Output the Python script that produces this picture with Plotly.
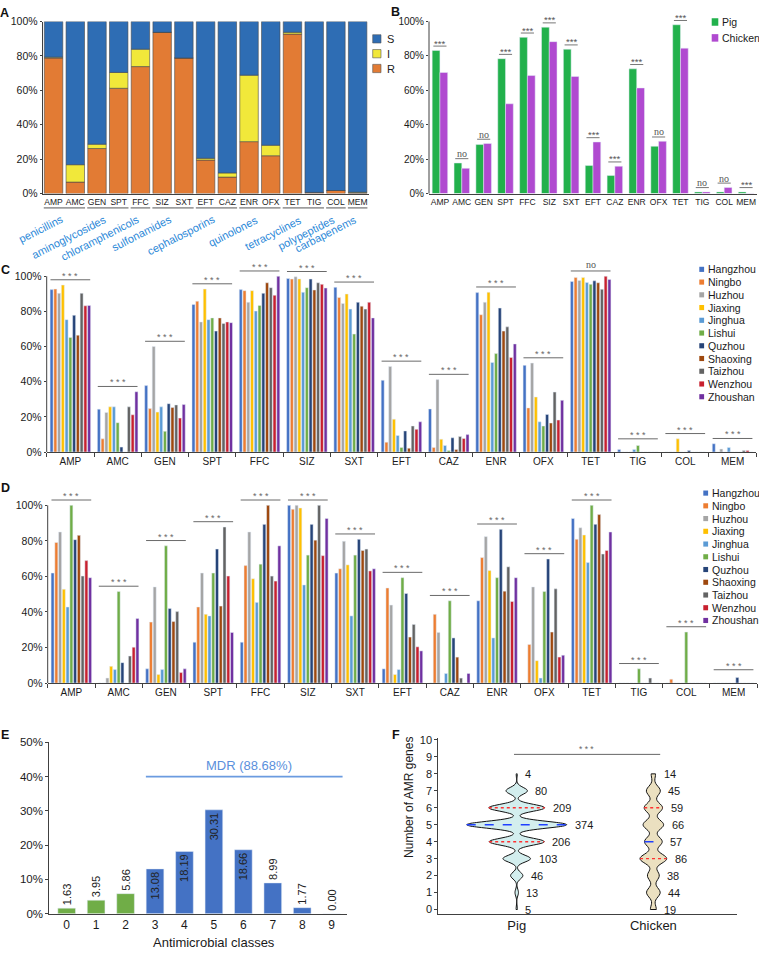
import numpy as np
import plotly.graph_objects as go

W, H = 759, 954
FONT = "Arial, 'Liberation Sans', Helvetica, sans-serif"
SERIF = "'Times New Roman', 'Liberation Serif', serif"
AXC = "#404040"
TXT = "#1a1a1a"

# ---------------- data ----------------
DRUGS = ["AMP", "AMC", "GEN", "SPT", "FFC", "SIZ", "SXT", "EFT", "CAZ", "ENR", "OFX", "TET", "TIG", "COL", "MEM"]

# Panel A: resistant / intermediate (% of isolates); susceptible is the rest
A_R = [78.8, 6.7, 26.2, 61.2, 73.8, 93.7, 78.8, 19.5, 9.6, 30.2, 22.0, 92.7, 0.7, 1.8, 0.4]
A_I = [0.5, 10.1, 2.5, 9.2, 10.1, 0.0, 0.0, 1.0, 2.4, 38.6, 6.1, 1.0, 0.0, 0.0, 0.4]
CLASS_NAMES = ["penicillins", "aminoglycosides", "chloramphenicols", "sulfonamides", "cephalosporins",
               "quinolones", "tetracyclines", "polypeptides", "carbapenems"]
CLASS_DRUGS = [["AMP", "AMC"], ["GEN", "SPT"], ["FFC"], ["SIZ", "SXT"], ["EFT", "CAZ"],
               ["ENR", "OFX"], ["TET", "TIG"], ["COL"], ["MEM"]]

# Panel B
B_PIG = [83.2, 17.8, 28.5, 78.4, 90.8, 96.7, 83.9, 16.3, 10.5, 72.5, 27.5, 98.1, 1.0, 1.0, 1.0]
B_CHICKEN = [70.4, 14.7, 29.1, 52.2, 68.6, 88.3, 68.1, 30.0, 15.9, 61.4, 30.4, 84.5, 1.0, 3.6, 0.2]
B_SIG = ["***", "no", "no", "***", "***", "***", "***", "***", "***", "***", "no", "***", "no", "no", "***"]

# Panels C and D
CITIES = ["Hangzhou", "Ningbo", "Huzhou", "Jiaxing", "Jinghua", "Lishui", "Quzhou", "Shaoxing", "Taizhou", "Wenzhou", "Zhoushan"]
C_HANGZHOU = [92.4, 24.4, 37.8, 83.9, 92.4, 98.7, 93.7, 40.8, 24.5, 90.7, 49.3, 97.0, 1.5, 0.0, 4.7]
C_NINGBO = [92.7, 7.5, 24.7, 85.8, 91.8, 98.4, 87.9, 5.6, 2.6, 78.1, 25.1, 99.3, 0.0, 0.0, 0.0]
C_HUZHOU = [90.3, 22.5, 60.0, 74.0, 85.2, 99.7, 84.5, 48.7, 41.2, 85.2, 50.6, 97.6, 0.0, 0.0, 1.7]
C_JIAXING = [95.0, 25.7, 22.7, 92.7, 91.8, 98.5, 89.9, 18.7, 7.3, 90.9, 31.3, 99.3, 0.0, 7.5, 0.0]
C_JINGHUA = [75.3, 25.7, 25.7, 75.3, 80.2, 90.9, 81.3, 9.4, 3.7, 51.0, 17.2, 96.5, 1.5, 0.0, 2.6]
C_LISHUI = [65.2, 16.7, 11.8, 76.3, 83.4, 93.5, 67.1, 2.6, 0.9, 56.0, 14.8, 95.4, 3.7, 0.0, 0.0]
C_QUZHOU = [77.8, 2.8, 27.5, 68.8, 90.3, 98.4, 85.2, 12.0, 8.1, 81.9, 21.4, 97.4, 0.0, 0.9, 0.0]
C_SHAOXING = [66.5, 0.0, 25.3, 76.3, 96.3, 92.2, 83.0, 2.2, 1.5, 68.8, 16.5, 96.3, 0.0, 0.0, 0.0]
C_TAIZHOU = [90.3, 25.7, 26.8, 73.1, 93.5, 96.3, 81.3, 14.8, 8.8, 71.2, 34.1, 92.6, 0.0, 0.0, 0.9]
C_WENZHOU = [83.2, 21.2, 19.3, 74.0, 89.2, 95.4, 85.2, 12.9, 7.7, 53.8, 18.2, 100.0, 0.0, 0.0, 0.9]
C_ZHOUSHAN = [83.4, 34.3, 27.0, 73.6, 100.0, 93.3, 76.3, 17.2, 9.9, 61.5, 29.4, 98.2, 0.0, 0.0, 0.0]
C_SIG = ["***"] * 11 + ["no", "***", "***", "***"]

D_HANGZHOU = [61.9, 0.0, 8.0, 23.0, 23.0, 100.0, 61.9, 8.0, 0.0, 46.3, 0.0, 92.6, 0.0, 0.0, 0.0]
D_NINGBO = [79.1, 0.0, 34.3, 42.8, 66.1, 97.8, 64.3, 53.5, 38.7, 70.6, 21.7, 80.9, 0.0, 2.2, 0.0]
D_HUZHOU = [85.0, 2.8, 54.1, 61.9, 85.0, 100.0, 79.8, 43.9, 28.5, 82.4, 54.1, 87.4, 0.0, 0.0, 0.0]
D_JIAXING = [52.8, 9.4, 4.8, 38.7, 58.7, 98.5, 66.5, 4.8, 0.0, 63.3, 12.6, 83.3, 0.0, 0.0, 0.0]
D_JINGHUA = [42.8, 7.6, 7.6, 37.8, 45.4, 55.2, 37.8, 7.6, 5.4, 25.4, 2.8, 67.8, 0.0, 0.0, 0.0]
D_LISHUI = [100.0, 51.5, 77.2, 61.9, 66.9, 72.0, 72.0, 59.3, 46.3, 59.3, 51.5, 100.0, 8.0, 28.7, 0.0]
D_QUZHOU = [80.7, 11.5, 42.0, 75.4, 89.3, 89.3, 80.9, 50.4, 25.4, 86.5, 69.8, 89.3, 0.0, 0.0, 3.1]
D_SHAOXING = [83.1, 0.0, 34.6, 43.3, 100.0, 80.4, 74.6, 25.9, 14.6, 51.7, 28.7, 94.8, 0.0, 0.0, 0.0]
D_TAIZHOU = [60.2, 15.2, 40.2, 87.8, 60.2, 100.0, 75.4, 33.0, 2.8, 65.4, 53.0, 72.6, 2.8, 0.0, 0.0]
D_WENZHOU = [68.9, 20.2, 5.9, 60.2, 57.4, 71.7, 63.1, 20.4, 0.0, 45.9, 14.6, 74.6, 0.0, 0.0, 0.0]
D_ZHOUSHAN = [59.3, 36.3, 8.0, 28.5, 77.2, 92.6, 64.3, 18.1, 5.4, 59.3, 15.7, 85.0, 0.0, 0.0, 0.0]
D_SIG = ["***"] * 15

# Panel E
E_CLASSES = [0, 1, 2, 3, 4, 5, 6, 7, 8, 9]
E_PERCENT = [1.63, 3.95, 5.86, 13.08, 18.19, 30.31, 18.66, 8.99, 1.77, 0.00]
MDR_LABEL = "MDR (88.68%)"
MDR_LEVEL = 40

# Panel F
F_LEVELS = [0, 1, 2, 3, 4, 5, 6, 7, 8]
F_PIG_COUNTS = [5, 13, 46, 103, 206, 374, 209, 80, 4]
F_CHICKEN_COUNTS = [19, 44, 38, 86, 57, 66, 59, 45, 14]

# ---------------- styles ----------------
COL_S, COL_I, COL_R = "#2e6db4", "#f1e83a", "#e27b34"
COL_PIG, COL_CHICKEN = "#22b14c", "#b04ad0"
CITY_COLORS = ["#4472c4", "#ed7d31", "#a5a5a5", "#ffc000", "#5b9bd5", "#70ad47",
               "#264478", "#9e480e", "#636363", "#c8202e", "#7030a0"]
E_GREEN, E_BLUE = "#70ad47", "#4472c4"


def xd(a, b):
    return [a / W, b / W]


def yd(bottom, top):
    return [1 - bottom / H, 1 - top / H]


def px(p):
    return p / W


def py(p):
    return 1 - p / H


def tf(size, color=TXT, family=FONT):
    return dict(size=size, color=color, family=family)


def axis(**kw):
    base = dict(showgrid=False, zeroline=False, showline=True, linecolor=AXC, linewidth=1,
                ticks="", tickcolor=AXC, tickfont=tf(10), fixedrange=True)
    base.update(kw)
    return base


def pct_axis(vals):
    return dict(tickmode="array", tickvals=vals, ticktext=[f"{v}%" for v in vals])


fig = go.Figure()
shapes = []
annotations = []
pct_ticks = [0, 20, 40, 60, 80, 100]

# ---------------- Panel A ----------------
a_S = [round(100 - r - i, 2) for r, i in zip(A_R, A_I)]
a_base_S = [r + i for r, i in zip(A_R, A_I)]
for vals, base, col in [(A_R, [0] * len(DRUGS), COL_R), (A_I, A_R, COL_I), (a_S, a_base_S, COL_S)]:
    fig.add_trace(go.Bar(x=DRUGS, y=vals, base=base, width=0.85, offset=-0.425,
                         marker=dict(color=col, line=dict(color="#4a4a4a", width=0.6)),
                         xaxis="x", yaxis="y", hoverinfo="skip"))

for name, members in zip(CLASS_NAMES, CLASS_DRUGS):
    idx = [DRUGS.index(m) for m in members]
    shapes.append(dict(type="line", xref="x", yref="paper", x0=min(idx) - 0.45, x1=max(idx) + 0.45,
                       y0=py(204.5), y1=py(204.5), line=dict(color="#555555", width=1)))
    annotations.append(dict(text=name, xref="x", yref="paper", x=(min(idx) + max(idx)) / 2, y=py(207),
                            xanchor="right", yanchor="top", textangle=-27, showarrow=False, xshift=3,
                            font=tf(11, "#2b88d8")))

for k, (lab, col) in enumerate(zip(["S", "I", "R"], [COL_S, COL_I, COL_R])):
    yc = 33.3 + 15 * k
    shapes.append(dict(type="rect", xref="paper", yref="paper", x0=px(372.7), x1=px(381),
                       y0=py(yc + 4.2), y1=py(yc - 4.2), fillcolor=col, line=dict(color="#555", width=0.6)))
    annotations.append(dict(text=lab, xref="paper", yref="paper", x=px(384.5), y=py(yc),
                            xanchor="left", yanchor="middle", showarrow=False, font=tf(11)))

# ---------------- Panel B ----------------
bw_b = 0.355
fig.add_trace(go.Bar(x=DRUGS, y=B_PIG, width=bw_b, offset=-bw_b, marker=dict(color=COL_PIG),
                     xaxis="x2", yaxis="y2", hoverinfo="skip"))
fig.add_trace(go.Bar(x=DRUGS, y=B_CHICKEN, width=bw_b, offset=0, marker=dict(color=COL_CHICKEN),
                     xaxis="x2", yaxis="y2", hoverinfo="skip"))
for i, sig in enumerate(B_SIG):
    ly = max(B_PIG[i], B_CHICKEN[i]) + 2.5
    shapes.append(dict(type="line", xref="x2", yref="y2", x0=i - 0.3, x1=i + 0.3, y0=ly, y1=ly,
                       line=dict(color="#777", width=1)))
    if sig == "no":
        annotations.append(dict(text="no", xref="x2", yref="y2", x=i, y=ly, yanchor="middle", yshift=5,
                                showarrow=False, font=tf(10, "#555", SERIF)))
    else:
        annotations.append(dict(text=sig, xref="x2", yref="y2", x=i, y=ly, yanchor="middle", yshift=3,
                                showarrow=False, font=tf(9.5, "#555")))
for k, (lab, col) in enumerate(zip(["Pig", "Chicken"], [COL_PIG, COL_CHICKEN])):
    yc = 16.2 + 16.1 * k
    shapes.append(dict(type="rect", xref="paper", yref="paper", x0=px(711.7), x1=px(718.3),
                       y0=py(yc + 3.8), y1=py(yc - 3.8), fillcolor=col, line=dict(width=0)))
    annotations.append(dict(text=lab, xref="paper", yref="paper", x=px(720), y=py(yc),
                            xanchor="left", yanchor="middle", showarrow=False, font=tf(10.5)))
# y axis line of B (up to 100%)
shapes.append(dict(type="line", xref="paper", yref="paper", x0=px(429), x1=px(429), y0=py(190), y1=py(15.7),
                   line=dict(color=AXC, width=1)))

# ---------------- Panels C and D ----------------
C_VALUES = [C_HANGZHOU, C_NINGBO, C_HUZHOU, C_JIAXING, C_JINGHUA, C_LISHUI, C_QUZHOU, C_SHAOXING,
            C_TAIZHOU, C_WENZHOU, C_ZHOUSHAN]
D_VALUES = [D_HANGZHOU, D_NINGBO, D_HUZHOU, D_JIAXING, D_JINGHUA, D_LISHUI, D_QUZHOU, D_SHAOXING,
            D_TAIZHOU, D_WENZHOU, D_ZHOUSHAN]
group_span = 0.873
slot = group_span / len(CITIES)
for xa, ya, values, sigs, leg_x, leg_y0, ax_px, y0px, y100px in [
        ("x3", "y3", C_VALUES, C_SIG, 699.3, 266.7, 46.7, 451.7, 273.7),
        ("x4", "y4", D_VALUES, D_SIG, 703.3, 493.3, 47.7, 685.7, 505.7)]:
    for j, (vals, col) in enumerate(zip(values, CITY_COLORS)):
        fig.add_trace(go.Bar(x=DRUGS, y=vals, width=slot * 0.8, offset=-group_span / 2 + j * slot + slot * 0.1,
                             marker=dict(color=col), xaxis=xa, yaxis=ya, hoverinfo="skip"))
    for i, sig in enumerate(sigs):
        m = max(v[i] for v in values)
        ly = max(m + 3, 7.5)
        shapes.append(dict(type="line", xref=xa, yref=ya, x0=i - 0.42, x1=i + 0.42, y0=ly, y1=ly,
                           line=dict(color="#6a6a6a", width=1)))
        if sig == "no":
            annotations.append(dict(text="no", xref=xa, yref=ya, x=i, y=ly, yanchor="middle", yshift=6,
                                    showarrow=False, font=tf(10, "#555", SERIF)))
        else:
            annotations.append(dict(text="* * *", xref=xa, yref=ya, x=i, y=ly, yanchor="middle", yshift=4,
                                    showarrow=False, font=tf(9, "#666")))
    for j, (city, col) in enumerate(zip(CITIES, CITY_COLORS)):
        yc = leg_y0 + 12.9 * j
        shapes.append(dict(type="rect", xref="paper", yref="paper", x0=px(leg_x), x1=px(leg_x + 4.8),
                           y0=py(yc + 2.6), y1=py(yc - 2.6), fillcolor=col, line=dict(width=0)))
        annotations.append(dict(text=city, xref="paper", yref="paper", x=px(leg_x + 6.8), y=py(yc),
                                xanchor="left", yanchor="middle", showarrow=False, font=tf(10.5)))
    shapes.append(dict(type="line", xref="paper", yref="paper", x0=px(ax_px), x1=px(ax_px),
                       y0=py(y0px), y1=py(y100px), line=dict(color=AXC, width=1)))

# ---------------- Panel E ----------------
e_colors = [E_GREEN if c < 3 else E_BLUE for c in E_CLASSES]
e_pos = ["inside" if v >= 10 else "outside" for v in E_PERCENT]
fig.add_trace(go.Bar(x=E_CLASSES, y=E_PERCENT, width=0.6, offset=-0.3, marker=dict(color=e_colors),
                     text=[f"{v:.2f}" for v in E_PERCENT], textposition=e_pos, textangle=-90,
                     insidetextanchor="end", constraintext="none", cliponaxis=False,
                     textfont=tf(11, "#222"), insidetextfont=tf(11, "#222"), outsidetextfont=tf(11, "#222"),
                     xaxis="x5", yaxis="y5", hoverinfo="skip"))
fig.add_trace(go.Scatter(x=[2.69, 9.37], y=[MDR_LEVEL, MDR_LEVEL], mode="lines",
                         line=dict(color="#6b9be0", width=1.6), xaxis="x5", yaxis="y5", hoverinfo="skip"))
annotations.append(dict(text=MDR_LABEL, xref="x5", yref="y5", x=6.2, y=MDR_LEVEL, yanchor="bottom", yshift=2,
                        showarrow=False, font=tf(13, "#5a8fdc")))
annotations.append(dict(text="Antimicrobial classes", xref="paper", yref="paper", x=px(214), y=py(948),
                        xanchor="center", yanchor="middle", showarrow=False, font=tf(13)))

# ---------------- Panel F ----------------
def halfwidths(samples, bw, full_width, levels):
    grid = np.linspace(samples.min(), samples.max(), 401)

    def dens(y):
        y = np.atleast_1d(np.asarray(y, float))
        return np.exp(-0.5 * ((y[:, None] - samples[None, :]) / bw) ** 2).sum(axis=1)

    return 0.5 * full_width * dens(levels) / dens(grid).max()


for pos, counts, bw, wid, fill in [(0, F_PIG_COUNTS, 0.2, 0.732, "#d3eeee"),
                                   (1, F_CHICKEN_COUNTS, 0.28, 0.195, "#ebe0c0")]:
    samples = np.repeat(np.array(F_LEVELS, float), counts)
    fig.add_trace(go.Violin(x=np.full(samples.size, pos), y=samples, width=wid, bandwidth=bw,
                            spanmode="hard", points=False, fillcolor=fill, line=dict(color="#111", width=1),
                            box_visible=False, meanline_visible=False, xaxis="x6", yaxis="y6",
                            hoverinfo="skip", scalemode="width", side="both", opacity=1))
    q1, med, q3 = np.percentile(samples, [25, 50, 75])
    for qv, col, dash in [(q1, "#ff3030", "dot"), (q3, "#ff3030", "dot"), (med, "#2040ff", "dash")]:
        hw = halfwidths(samples, bw, wid, [qv])[0]
        fig.add_trace(go.Scatter(x=[pos - hw, pos + hw], y=[qv, qv], mode="lines",
                                 line=dict(color=col, width=1.4, dash=dash), xaxis="x6", yaxis="y6",
                                 hoverinfo="skip"))
    hws = halfwidths(samples, bw, wid, F_LEVELS)
    for lev, cnt, hw in zip(F_LEVELS, counts, hws):
        annotations.append(dict(text=str(cnt), xref="x6", yref="y6", x=pos + hw, y=lev, xanchor="left",
                                yanchor="middle", xshift=6, showarrow=False, font=tf(11)))

fig.add_trace(go.Scatter(x=[-0.02, 1.05], y=[9.15, 9.15], mode="lines", line=dict(color="#666", width=1),
                         xaxis="x6", yaxis="y6", hoverinfo="skip"))
annotations.append(dict(text="* * *", xref="x6", yref="y6", x=0.51, y=9.15, yanchor="middle", yshift=5,
                        showarrow=False, font=tf(8.5, "#666")))
annotations.append(dict(text="Number of AMR genes", xref="paper", yref="paper", x=px(409), y=py(801),
                        xanchor="center", yanchor="middle", textangle=-90, showarrow=False, font=tf(12)))

# ---------------- panel letters ----------------
for lab, cx, cy in [("A", 4.5, 7.5), ("B", 395.5, 6.5), ("C", 5, 267), ("D", 5, 488), ("E", 4.5, 738.5),
                    ("F", 396, 738.5)]:
    annotations.append(dict(text=f"<b>{lab}</b>", xref="paper", yref="paper", x=px(cx), y=py(cy),
                            xanchor="center", yanchor="middle", showarrow=False, font=tf(12.5, "#111")))

# ---------------- layout ----------------
fig.update_layout(
    width=W, height=H, margin=dict(l=0, r=0, t=0, b=0), paper_bgcolor="white", plot_bgcolor="white",
    showlegend=False, font=dict(family=FONT, color=TXT, size=10), barmode="group", violinmode="overlay",
    xaxis=axis(domain=xd(42.7, 368.5), anchor="y", type="category", categoryorder="array",
               categoryarray=DRUGS, range=[-0.5, 14.5], tickfont=tf(8.5)),
    yaxis=axis(domain=yd(190, 15.7), anchor="x", range=[0, 100], **pct_axis(pct_ticks),
               ticks="outside", ticklen=2, tickfont=tf(10.5)),
    xaxis2=axis(domain=xd(429, 757), anchor="y2", type="category", categoryorder="array",
                categoryarray=DRUGS, range=[-0.5, 14.5], tickfont=tf(8.5)),
    yaxis2=axis(domain=yd(190, 190 - 174.3 * 1.03), anchor="x2", range=[0, 103], **pct_axis(pct_ticks),
                ticks="outside", ticklen=2, showline=False, tickfont=tf(10)),
    xaxis3=axis(domain=xd(46.7, 756.2), anchor="y3", type="category", categoryorder="array",
                categoryarray=DRUGS, range=[-0.5, 14.5], ticks="outside", tickson="boundaries", ticklen=4,
                tickfont=tf(10)),
    yaxis3=axis(domain=yd(451.7, 451.7 - 178 * 1.06), anchor="x3", range=[0, 106], **pct_axis(pct_ticks),
                ticks="outside", ticklen=2, showline=False, tickfont=tf(10.5)),
    xaxis4=axis(domain=xd(47.7, 757.2), anchor="y4", type="category", categoryorder="array",
                categoryarray=DRUGS, range=[-0.5, 14.5], ticks="outside", tickson="boundaries", ticklen=4,
                tickfont=tf(10)),
    yaxis4=axis(domain=yd(685.7, 685.7 - 180 * 1.06), anchor="x4", range=[0, 106], **pct_axis(pct_ticks),
                ticks="outside", ticklen=2, showline=False, tickfont=tf(10.5)),
    xaxis5=axis(domain=xd(49.3, 346.7), anchor="y5", type="linear", range=[-0.59, 9.51],
                tickvals=E_CLASSES, tickfont=tf(12)),
    yaxis5=axis(domain=yd(919.3, 745.7), anchor="x5", range=[0, 50], **pct_axis([0, 10, 20, 30, 40, 50]),
                ticks="outside", ticklen=3, tickfont=tf(11.5)),
    xaxis6=axis(domain=xd(438.3, 736.7), anchor="y6", type="linear", range=[-0.574, 1.61],
                tickvals=[0, 1], ticktext=["Pig", "Chicken"], tickfont=tf(13)),
    yaxis6=axis(domain=yd(919.3, 741.6), anchor="x6", range=[-0.25, 10.1], tickvals=list(range(11)),
                ticks="outside", ticklen=3, tickfont=tf(11)),
    shapes=shapes, annotations=annotations,
)

fig.write_html(
    "out.html",
    config={"responsive": False, "displayModeBar": False},
    post_script="document.body.style.margin='0px';document.body.style.padding='0px';"
                "document.documentElement.style.overflow='hidden';",
)
